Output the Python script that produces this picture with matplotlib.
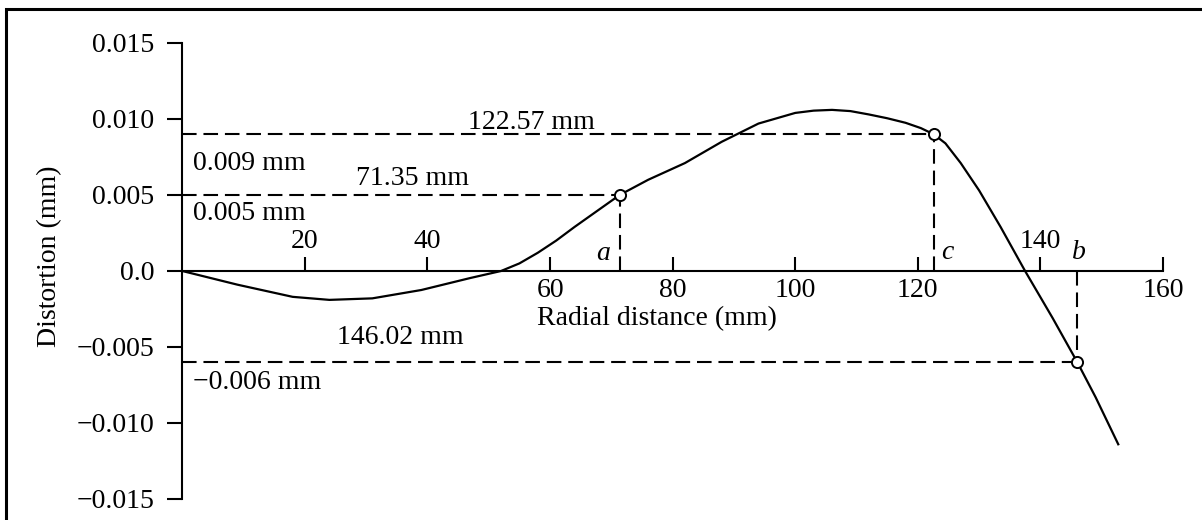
import numpy as np
import matplotlib
matplotlib.use("Agg")
import matplotlib.pyplot as plt
from matplotlib.patches import Rectangle
from matplotlib.ticker import FixedLocator, FixedFormatter

plt.rcParams['font.family'] = ['Liberation Serif', 'DejaVu Serif']

# distortion curve, radial distance (mm) vs distortion (mm)
r_mm = [0, 9, 18, 24, 31, 39, 47, 52, 55, 58, 61, 64, 67.5, 71.35, 76, 82,
        88, 94, 100, 103, 106, 109, 112, 115, 118, 120.5, 122.57, 124.5, 127,
        130, 133.5, 137.5, 142, 146.02, 149, 152.7]
dist_mm = [0.0, -0.0009, -0.0017, -0.0019, -0.0018, -0.00125, -0.00046, 0.0,
           0.0005, 0.0012, 0.002, 0.0029, 0.0039, 0.005, 0.006, 0.0071,
           0.0085, 0.0097, 0.0104, 0.01055, 0.0106, 0.01052, 0.0103, 0.01005,
           0.00975, 0.0094, 0.009, 0.0084, 0.0071, 0.0053, 0.0029, 0.0,
           -0.0031, -0.006, -0.0083, -0.0114]

# marked points a, c, b
pt_names = ['a', 'c', 'b']
pt_r = [71.35, 122.57, 146.02]
pt_d = [0.005, 0.009, -0.006]

xticks = [20, 40, 60, 80, 100, 120, 140, 160]
xtick_above = [True, True, False, False, False, False, True, False]
yticks = [0.015, 0.010, 0.005, 0.0, -0.005, -0.010, -0.015]
ytick_labels = ['0.015', '0.010', '0.005', '0.0', '\u22120.005', '\u22120.010', '\u22120.015']

W, H = 1202, 520
fig = plt.figure(figsize=(W / 100, H / 100), dpi=100)
ax = fig.add_axes([182.3 / W, 21 / H, (1163 - 182.3) / W, (499 - 43) / H])
ax.set_xlim(0, 160)
ax.set_ylim(-0.015, 0.015)

ax.spines['top'].set_visible(False)
ax.spines['right'].set_visible(False)
ax.spines['bottom'].set_position(('data', 0))
for s in ['left', 'bottom']:
    ax.spines[s].set_linewidth(1.5)

ax.yaxis.set_major_locator(FixedLocator(yticks))
ax.yaxis.set_major_formatter(FixedFormatter(ytick_labels))
ax.tick_params(axis='y', direction='out', length=11, width=1.5, pad=9,
               labelsize=20)
ax.xaxis.set_major_locator(FixedLocator(xticks))
ax.tick_params(axis='x', direction='in', length=10, width=1.5, labelbottom=False)

# x tick labels sit above or below the axis line
for xv, up in zip(xticks, xtick_above):
    ax.annotate(str(xv), (xv, 0), xytext=(0, 21 if up else -14),
                textcoords='offset points', ha='center', va='center', fontsize=20)

ax.plot(r_mm, dist_mm, color='black', lw=1.6, zorder=3)

dash = (0, (7, 3.3))
for name, xr, yd in zip(pt_names, pt_r, pt_d):
    ax.plot([0, xr], [yd, yd], color='black', lw=1.5, linestyle=dash, zorder=2)
    ax.plot([xr, xr], [0, yd], color='black', lw=1.5, linestyle=dash, zorder=2)
    ax.plot(xr, yd, 'o', ms=8, mfc='white', mec='black', mew=1.4, zorder=4)

# point letters
ax.text(68.6, 0.00115, 'a', style='italic', fontsize=20, ha='center', va='center')
ax.text(124.8, 0.0012, 'c', style='italic', fontsize=20, ha='center', va='center')
ax.text(146.3, 0.0012, 'b', style='italic', fontsize=20, ha='center', va='center')

# value labels
ax.text(56.9, 0.0098, '122.57 mm', fontsize=20, ha='center', va='center')
ax.text(1.8, 0.0071, '0.009 mm', fontsize=20, ha='left', va='center')
ax.text(37.5, 0.0061, '71.35 mm', fontsize=20, ha='center', va='center')
ax.text(1.8, 0.0038, '0.005 mm', fontsize=20, ha='left', va='center')
ax.text(35.5, -0.0044, '146.02 mm', fontsize=20, ha='center', va='center')
ax.text(1.8, -0.00735, '\u22120.006 mm', fontsize=20, ha='left', va='center')

ax.text(77.4, -0.0031, 'Radial distance (mm)', fontsize=20, ha='center', va='center')
fig.text(50 / W, 1 - 256 / H, 'Distortion (mm)', rotation=90, fontsize=20,
         ha='center', va='center')

# frame around the figure
fig.patches.append(Rectangle((6 / W, -0.2), 1.2, (H - 9) / H + 0.2,
                             transform=fig.transFigure, fill=False,
                             edgecolor='black', lw=2.2))

fig.savefig('out.png', dpi=100)
